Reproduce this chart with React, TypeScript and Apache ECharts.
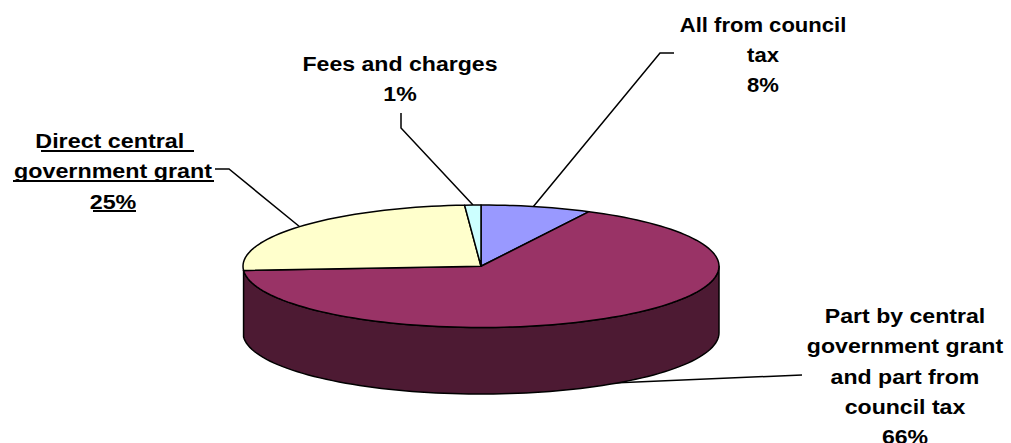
import React, { useEffect, useRef } from "react";
import * as echarts from "echarts";

// Data
const categories = [
  "All from council tax",
  "Part by central government grant and part from council tax",
  "Direct central government grant",
  "Fees and charges",
];
const shares = [7.5, 66.4, 25, 1.1];
const topColors = ["#9999FF", "#993366", "#FFFFCC", "#CCFFFF"];
const sideColors = ["#4D4D80", "#4D1A33", "#808066", "#668080"];

const labelLines = [
  ["All from council", "tax", "8%"],
  ["Part by central", "government grant", "and part from", "council tax", "66%"],
  ["Direct central ", "government grant", "25%"],
  ["Fees and charges", "1%"],
];

// Layout
const CX = 481;
const CY = 266.25;
const RX = 238;
const RY = 61.25;
const DEPTH = 66.5;
const FONT_SIZE = 21;
const STRETCH = [1.05, 1.1, 1.11, 1.1];
const LINE_GAP = 30.3;
const labelAnchors = [
  { x: 763, y: 25 },
  { x: 905, y: 316 },
  { x: 113, y: 141 },
  { x: 400, y: 64 },
];
const underlined = [false, false, true, false];
const leaders = [
  [[674, 53], [660, 53], [533, 207]],
  [[802, 375], [613, 383]],
  [[215, 169], [229, 169], [300, 227]],
  [[401, 113], [401, 128], [473, 205]],
];
const underlineRuns = [
  [41, 194, 151],
  [13, 214, 181],
  [93, 136, 211],
];

const pt = (deg: number, dy = 0): number[] => {
  const a = (deg * Math.PI) / 180;
  return [CX + RX * Math.sin(a), CY - RY * Math.cos(a) + dy];
};

const arc = (from: number, to: number, dy = 0): number[][] => {
  const pts: number[][] = [];
  const steps = Math.max(2, Math.ceil((to - from) / 2));
  for (let i = 0; i <= steps; i++) pts.push(pt(from + ((to - from) * i) / steps, dy));
  return pts;
};

const bounds: number[] = [];
shares.reduce((sum, v) => {
  bounds.push((sum / 100) * 360);
  return sum + v;
}, 0);
bounds.push(360);

const stroke = { stroke: "#000", lineWidth: 1.5, lineJoin: "round" as const };

export default function App() {
  const ref = useRef<HTMLDivElement>(null);
  useEffect(() => {
    const chart = echarts.init(ref.current!, undefined, { renderer: "svg" });

    const graphics: any[] = [];
    leaders.forEach((points) => {
      graphics.push({
        type: "polyline",
        shape: { points },
        style: { stroke: "#000", lineWidth: 1.5, fill: "none" },
        z: 1,
      });
    });
    labelLines.forEach((lines, i) => {
      lines.forEach((text, j) => {
        graphics.push({
          type: "text",
          x: labelAnchors[i].x,
          y: labelAnchors[i].y + j * LINE_GAP,
          scaleX: STRETCH[i],
          style: {
            text,
            fill: "#000",
            font: `bold ${FONT_SIZE}px "Liberation Sans", Arial, sans-serif`,
            align: "center",
            verticalAlign: "middle",
          },
          z: 5,
        });
      });
      if (underlined[i]) {
        underlineRuns.forEach(([x1, x2, y]) => {
          graphics.push({
            type: "line",
            shape: { x1, y1: y, x2, y2: y },
            style: { stroke: "#000", lineWidth: 2 },
            z: 5,
          });
        });
      }
    });

    chart.setOption({
      animation: false,
      tooltip: { show: false },
      graphic: { elements: graphics },
      series: [
        {
          type: "custom",
          coordinateSystem: "none",
          silent: true,
          z: 2,
          data: shares.map((value, i) => ({ name: categories[i], value })),
          renderItem: (params: any) => {
            const i = params.dataIndex;
            const from = bounds[i];
            const to = bounds[i + 1];
            const children: any[] = [];
            const wFrom = Math.max(from, 90);
            const wTo = Math.min(to, 270);
            if (wTo - wFrom > 5) {
              const front = arc(wFrom, wTo);
              const back = arc(wFrom, wTo, DEPTH).reverse();
              children.push({
                type: "polygon",
                shape: { points: [...front, ...back] },
                style: { fill: sideColors[i], ...stroke },
              });
            }
            children.push({
              type: "polygon",
              z2: 2,
              shape: { points: [[CX, CY], ...arc(from, to)] },
              style: { fill: topColors[i], ...stroke },
            });
            return { type: "group", children };
          },
        },
      ],
    });
    return () => chart.dispose();
  }, []);
  return (
    <div
      ref={ref}
      style={{ position: "absolute", left: 0, top: 0, width: 1011, height: 443, background: "#fff" }}
    />
  );
}
